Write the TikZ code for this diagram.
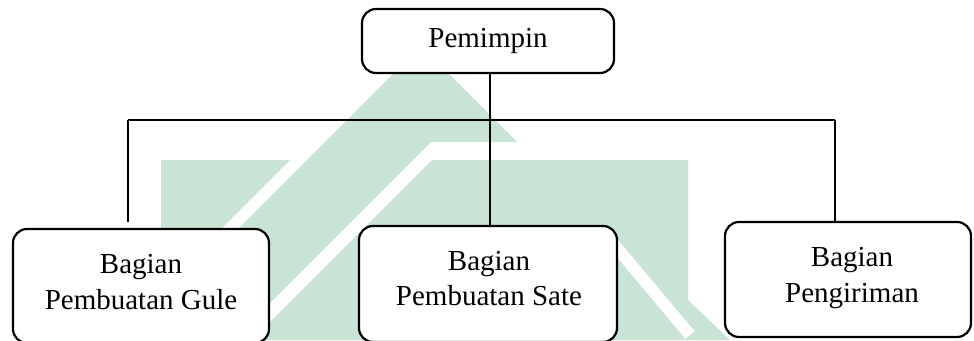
\documentclass[tikz,border=0pt]{standalone}
\usepackage{fontspec}
\setmainfont{Liberation Serif}
\definecolor{wmgreen}{RGB}{201,227,212}
\tikzset{
  box/.style={draw=black, line width=2.2pt, rounded corners=14pt, fill=white,
              inner sep=0pt, font=\fontsize{29}{36}\selectfont},
  lbl/.style={anchor=base, inner sep=0pt, font=\fontsize{29}{36}\selectfont},
  wire/.style={draw=black, line width=1.1pt},
  wmark/.style={fill=wmgreen, draw=none}
}
\begin{document}
\begin{tikzpicture}[x=1pt,y=-1pt]
\useasboundingbox (0,0) rectangle (974,340);
\clip (0,0) rectangle (974,340);

% background emblem
\fill[wmark] (421,46) -- (517,142) -- (431,142) -- (233,340) -- (127,340) -- cycle;
\fill[wmark] (161,160) -- (290,160) -- (161,289) -- cycle;
\fill[wmark] (432,160) -- (688,160) -- (688,300) -- (730,340) -- (252,340) -- cycle;
\draw[white, line width=12pt] (612,242) -- (690,335);

% junction points of the tree
\coordinate (hub) at (490,120);
\coordinate (hubL) at (128,120);
\coordinate (hubR) at (835,120);
\coordinate (guleTip) at (128,222);

% boxes
\node[box, minimum width=252pt, minimum height=64pt] (pem) at (488,41) {Pemimpin};
\node[box, minimum width=256pt, minimum height=114pt] (gule) at (141,286) {};
\node[box, minimum width=258pt, minimum height=116pt] (sate) at (488,284) {};
\node[box, minimum width=246pt, minimum height=115pt] (kirim) at (848,279.5) {};

% connectors
\draw[wire] (pem.south -| hub) -- (sate.north -| hub);
\draw[wire] (hubL) -- (hubR);
\draw[wire] (hubL) -- (guleTip);
\draw[wire] (hubR) -- (kirim.north -| hubR);

% box labels
\node[lbl] (guleA) at (141,273) {Bagian};
\node[lbl] (guleB) at (141,309) {Pembuatan Gule};
\node[lbl] (sateA) at (489,270) {Bagian};
\node[lbl] (sateB) at (489,305) {Pembuatan Sate};
\node[lbl] (kirimA) at (852,266) {Bagian};
\node[lbl] (kirimB) at (852,302) {Pengiriman};
\end{tikzpicture}
\end{document}
